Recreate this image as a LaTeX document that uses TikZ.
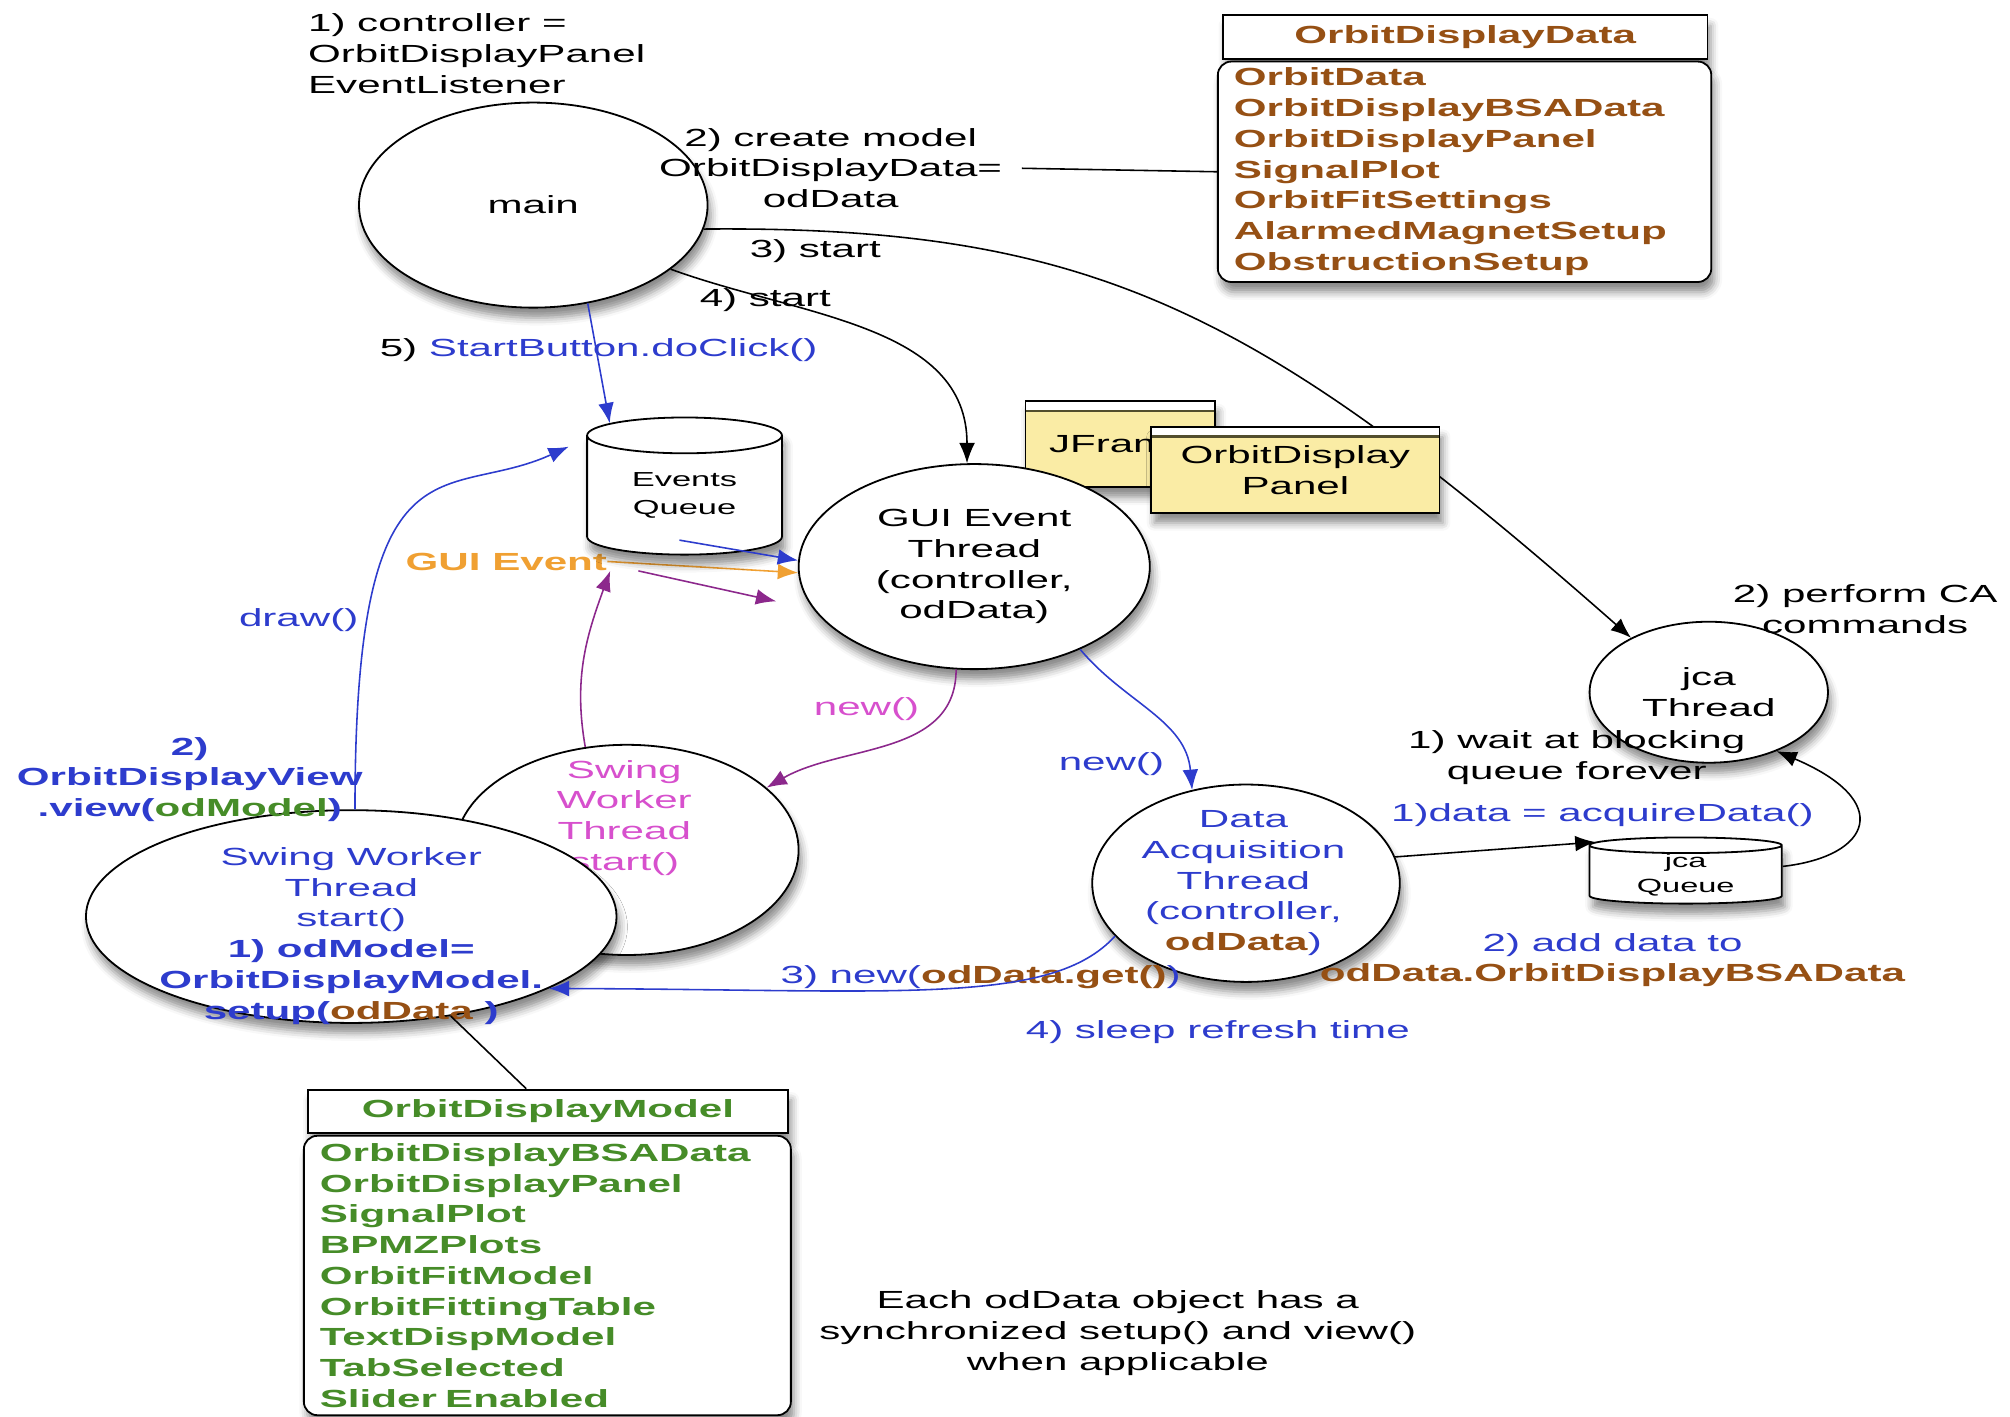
\documentclass[tikz,border=0pt]{standalone}
\usepackage{fontspec}
\setmainfont{Liberation Sans}[FakeStretch=1.7]
\usetikzlibrary{shapes.geometric, arrows.meta, shadows.blur, calc}

\definecolor{odblue}{RGB}{45,60,205}
\definecolor{odbrown}{RGB}{150,80,20}
\definecolor{odgreen}{RGB}{70,140,40}
\definecolor{odpink}{RGB}{215,80,205}
\definecolor{odpurple}{RGB}{140,40,140}
\definecolor{odorange}{RGB}{240,160,50}
\definecolor{odyellow}{RGB}{250,236,165}

\newcommand{\odfont}{\fontsize{11}{13.66}\selectfont}
\newcommand{\qfont}{\fontsize{9}{12}\selectfont}
\newcommand{\jqfont}{\fontsize{8.5}{10.8}\selectfont}

\tikzset{
  softshadow/.style={blur shadow={shadow xshift=0.5mm, shadow yshift=-1.6mm,
      shadow blur radius=1.2mm, shadow opacity=45}},
  thread/.style={ellipse, draw, thick, fill=white, inner sep=0pt, align=center, softshadow},
  queue/.style={cylinder, shape border rotate=90, draw, thick, fill=white,
      inner sep=0pt, align=center, softshadow},
  panel/.style={rectangle, draw, thick, fill=odyellow, inner sep=0pt, align=center, softshadow,
      path picture={
        \fill[white] (path picture bounding box.north west) rectangle
             ([yshift=-1.5mm]path picture bounding box.north east);
        \draw[line width=1.2pt, olive!45!black] ([yshift=-1.5mm]path picture bounding box.north west)
             -- ([yshift=-1.5mm]path picture bounding box.north east);}},
  classhead/.style={rectangle, draw, thick, fill=white, inner sep=0pt,
      minimum height=0.68cm, font=\odfont\bfseries, softshadow},
  classbody/.style={rectangle, rounded corners=6pt, draw, thick, fill=white, align=left,
      inner xsep=0.25cm, inner ysep=0pt, font=\odfont\bfseries, softshadow},
  txt/.style={inner sep=0pt, align=center},
  link/.style={line width=0.7pt, ->},
}

\begin{document}
\begin{tikzpicture}[x=0.02cm, y=-0.02cm, font=\odfont, >={Latex[length=9pt,width=7pt]}]
  \useasboundingbox (0,0) rectangle (1568,1105);

  % main and its notes
  \node[thread, minimum width=5.44cm, minimum height=3.2cm] (main) at (416,160) {main};
  \node[txt, anchor=west, align=left] (ctrl) at (240,42) {1) controller =\\OrbitDisplayPanel\\EventListener};
  \node[txt] (create) at (648,131) {2) create model\\OrbitDisplayData=\\odData};
  \node[txt] (start3) at (636,196) {3) start};
  \node[txt] (start4) at (597,234) {4) start};
  \node[txt] (click) at (467,273) {5) \textcolor{odblue}{StartButton.doClick()}};

  % OrbitDisplayData class
  \node[classhead, minimum width=7.56cm, text=odbrown] (odhead) at (1143,29) {OrbitDisplayData};
  \node[classbody, text width=7.2cm, minimum height=3.44cm, text=odbrown] (odbody) at (1142.5,134)
    {OrbitData\\OrbitDisplayBSAData\\OrbitDisplayPanel\\SignalPlot\\OrbitFitSettings\\AlarmedMagnetSetup\\ObstructionSetup};
  \draw[line width=0.7pt, shorten <=0.3cm] (create.east) -- (odbody.west);

  % jca thread, 3) start passes behind the frames
  \node[thread, minimum width=3.72cm, minimum height=2.2cm] (jca) at (1333,540) {jca\\Thread};
  \draw[link] (main.-8) .. controls (850,176) and (980,240) .. (jca.145);

  % frames and GUI thread
  \node[panel, minimum width=2.96cm, minimum height=1.34cm] (jframe) at (874,346.5) {JFrame};
  \node[thread, minimum width=5.48cm, minimum height=3.2cm] (gui) at (760,442) {GUI Event\\Thread\\(controller,\\odData)};
  \node[panel, minimum width=4.5cm, minimum height=1.34cm] (odpanel) at (1010.5,366.5) {OrbitDisplay\\Panel};

  % events queue
  \node[txt, text=odorange, font=\odfont\bfseries] (guievent) at (395,438) {GUI Event};
  \draw[link, odorange] (guievent.east) -- (gui.182);
  \node[queue, minimum height=2.14cm, minimum width=3.04cm, aspect=0.34, font=\qfont] (queue) at (534,386.5) {Events\\Queue};

  % swing workers
  \node[thread, minimum width=5.36cm, minimum height=3.28cm] (pink) at (489,663) {};
  \node[txt, text=odpink] (pinktxt) at (487,638) {Swing\\Worker\\Thread\\start()};
  \node[thread, minimum width=8.28cm, minimum height=3.32cm] (swing) at (274,715) {};
  \node[txt, text=odblue] (swingtxt) at (274,730) {Swing Worker\\Thread\\start()\\\textbf{1) odModel=}\\\textbf{OrbitDisplayModel.}\\\textbf{setup(\textcolor{odbrown}{odData} )}};
  \node[txt, text=odblue, font=\odfont\bfseries] (view) at (148,608) {2)\\OrbitDisplayView\\.view(\textcolor{odgreen}{odModel})};

  % data acquisition
  \node[thread, minimum width=4.8cm, minimum height=3.08cm] (da) at (972,689) {};
  \node[txt, text=odblue] (datxt) at (970,689) {Data\\Acquisition\\Thread\\(controller,\\\textcolor{odbrown}{\textbf{odData}})};
  \node[queue, minimum height=0.9cm, minimum width=3cm, aspect=0.16, font=\jqfont] (jqueue) at (1315,682.5) {jca\\Queue};

  % labels
  \node[txt] (perform) at (1455,475) {2) perform CA\\commands};
  \node[txt] (wait) at (1230,591) {1) wait at blocking\\queue forever};
  \node[txt, text=odblue] (acquire) at (1250,636) {1)data = acquireData()};
  \node[txt, text=odblue] (adddata) at (1258,749) {2) add data to\\\textcolor{odbrown}{\textbf{odData.OrbitDisplayBSAData}}};
  \node[txt, text=odblue] (newget) at (765,762) {3) new(\textcolor{odbrown}{\textbf{odData.get()}})};
  \node[txt, text=odblue] (sleep) at (950,805) {4) sleep refresh time};
  \node[txt, text=odpink] (newswing) at (676,553) {new()};
  \node[txt, text=odblue] (newda) at (867,596) {new()};
  \node[txt, text=odblue] (drawlbl) at (233,484) {draw()};

  % connectors
  \draw[link] (main.-25) to[out=-20, in=90] (gui.94);
  \draw[link, odblue] (main.-61) -- (queue.136);
  \draw[link, odblue] ($(queue.south)+(-4,-12)$) -- (gui.178);
  \draw[link, odpurple, shorten >=0.6cm] ($(queue.south)+(-36,12)$) -- (gui.195);
  \draw[link, odpurple] (pink.112) to[out=100, in=-110] ($(queue.south)+(-58,12)$);
  \draw[link, odpurple] (gui.-100) to[out=-90, in=30] (pink.24);
  \draw[link, odblue, shorten >=0.3cm] (swing.88) .. controls +(0,-300) and +(-110,50) .. (queue.150);
  \draw[link, odblue] (gui.-38) to[out=-50, in=95] (da.120);
  \draw[link, odblue] (da.-158) .. controls (820,785) and (700,772) .. (swing.-20);
  \draw[link] (da.10) -- (jqueue.160);
  \draw[link] (jqueue.5) .. controls (1460,668) and (1478,625) .. (jca.-41);

  % OrbitDisplayModel class
  \node[classhead, minimum width=7.5cm, text=odgreen] (odmhead) at (427.5,867) {OrbitDisplayModel};
  \node[classbody, text width=7.1cm, minimum height=4.36cm, text=odgreen] (odmbody) at (427,995)
    {OrbitDisplayBSAData\\OrbitDisplayPanel\\SignalPlot\\BPMZPlots\\OrbitFitModel\\OrbitFittingTable\\TextDispModel\\TabSelected\\Slider Enabled};
  \draw[line width=0.7pt] (swing.-45) -- ([xshift=-0.34cm]odmhead.north);

  \node[txt] (note) at (872,1040) {Each odData object has a\\synchronized setup() and view()\\when applicable};
\end{tikzpicture}
\end{document}
